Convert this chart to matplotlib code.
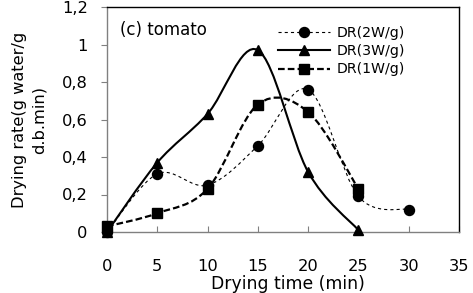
import matplotlib
matplotlib.use("Agg")
import matplotlib.pyplot as plt
from matplotlib.path import Path
from matplotlib.patches import PathPatch
from matplotlib.ticker import FuncFormatter
from matplotlib.lines import Line2D
import numpy as np

plt.rcParams['font.family'] = ['DejaVu Sans']

time_2w = [0, 5, 10, 15, 20, 25, 30]
dr_2w = [0.0, 0.31, 0.25, 0.46, 0.76, 0.19, 0.12]
time_3w = [0, 5, 10, 15, 20, 25]
dr_3w = [0.0, 0.37, 0.63, 0.97, 0.32, 0.01]
time_1w = [0, 5, 10, 15, 20, 25]
dr_1w = [0.03, 0.10, 0.23, 0.68, 0.64, 0.23]

W, H = 473, 293
fig = plt.figure(figsize=(W / 100, H / 100), dpi=100)
ax = fig.add_axes([107 / W, 1 - 232 / H, (459 - 107) / W, (232 - 7) / H])


def smooth_path(xs, ys):
    pts = np.column_stack([xs, ys]).astype(float)
    verts = [pts[0]]
    codes = [Path.MOVETO]
    n = len(pts)
    for i in range(n - 1):
        p0 = pts[i - 1] if i > 0 else pts[i]
        p1 = pts[i]
        p2 = pts[i + 1]
        p3 = pts[i + 2] if i + 2 < n else pts[i + 1]
        c1 = p1 + (p2 - p0) / 6.0
        c2 = p2 - (p3 - p1) / 6.0
        verts += [c1, c2, p2]
        codes += [Path.CURVE4] * 3
    return Path(verts, codes)


styles = [
    (time_2w, dr_2w, 'o', (0, (2.8, 2.8)), 0.8, 'DR(2W/g)', 7.2),
    (time_3w, dr_3w, '^', '-', 1.5, 'DR(3W/g)', 7.2),
    (time_1w, dr_1w, 's', (0, (3.0, 1.4)), 1.6, 'DR(1W/g)', 6.8),
]
handles = []
for xs, ys, m, ls, lw, lab, ms in styles:
    patch = PathPatch(smooth_path(xs, ys), fill=False, edgecolor='black',
                      linestyle=ls, linewidth=lw, transform=ax.transData,
                      zorder=2, clip_on=False)
    ax.add_patch(patch)
    ax.plot(xs, ys, linestyle='none', marker=m, color='black',
            markersize=ms, zorder=3, clip_on=False)
    handles.append(Line2D([], [], color='black', linestyle=ls, linewidth=lw,
                          marker=m, markersize=ms, label=lab))

ax.set_xlim(0, 35)
ax.set_ylim(0, 1.2)
ax.set_xticks(np.arange(0, 36, 5))
ax.set_yticks(np.arange(0, 1.21, 0.2))


def comma_fmt(v, pos):
    s = f"{v:.1f}".rstrip('0').rstrip('.')
    return s.replace('.', ',')


ax.yaxis.set_major_formatter(FuncFormatter(comma_fmt))
ax.tick_params(axis='x', direction='in', length=4.5, color='#808080',
               labelsize=11.7, pad=19.5)
ax.tick_params(axis='y', direction='out', length=4.5, color='#808080',
               labelsize=11.7, pad=9.4)
ax.spines['left'].set_color('#808080')
ax.spines['bottom'].set_color('#808080')
ax.spines['top'].set_color('black')
ax.spines['right'].set_color('black')
for s in ax.spines.values():
    s.set_linewidth(1.0)

ax.set_xlabel('Drying time (min)', fontsize=12.4)
ax.xaxis.set_label_coords((288 - 107) / 352, (232 - 275) / 225)
ax.set_ylabel('Drying rate(g water/g\nd.b.min)', fontsize=11.7,
              linespacing=1.45)
ax.yaxis.set_label_coords((47 - 107) / 352, 0.5)

fig.text(120 / W, 1 - 21 / H, '(c) tomato', fontsize=12, va='top', ha='left')

leg = ax.legend(handles=handles, loc='upper left',
                bbox_to_anchor=((278 - 107) / 352, (232 - 26) / 225),
                frameon=False, fontsize=10.2, handlelength=3.7,
                handletextpad=0.45, labelspacing=0.3, borderaxespad=0,
                borderpad=0)

fig.savefig('out.png', dpi=100)
